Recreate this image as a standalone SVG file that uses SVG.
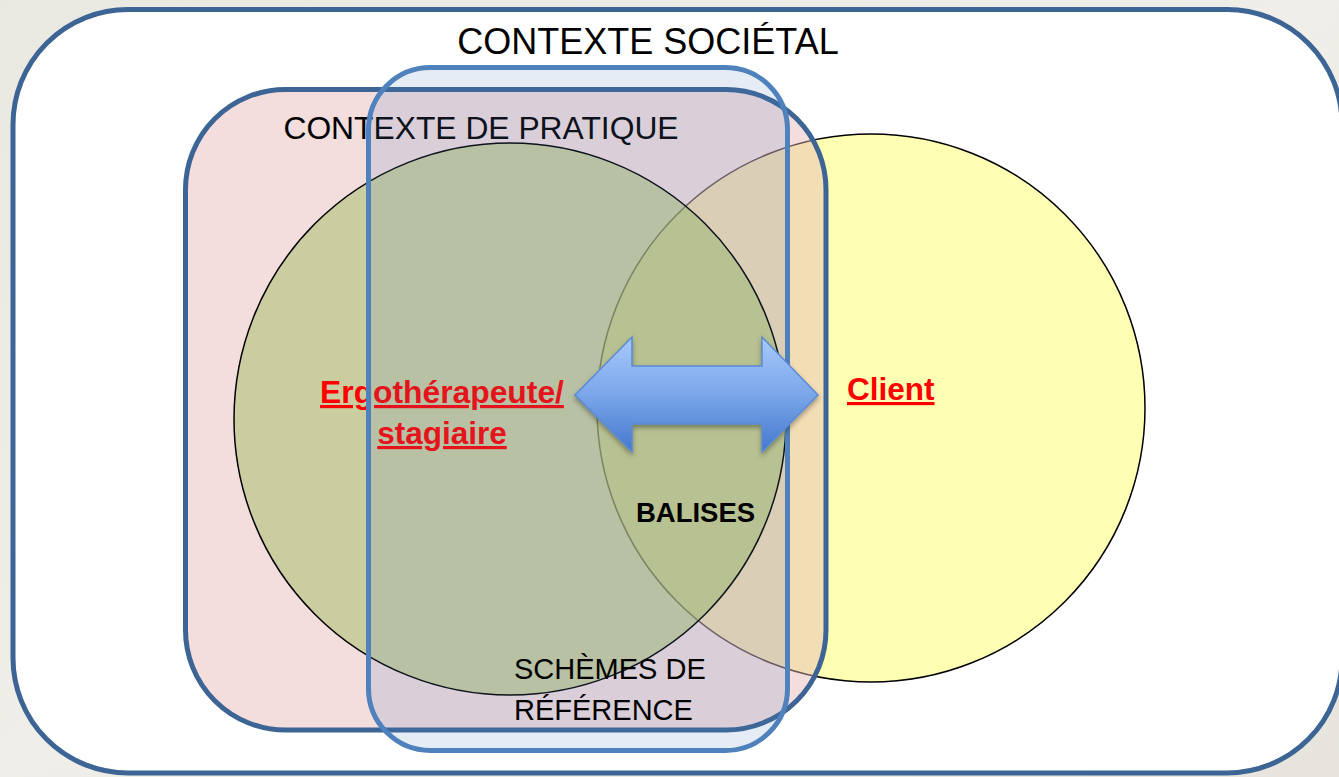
<svg xmlns="http://www.w3.org/2000/svg" width="1339" height="777" viewBox="0 0 1339 777">
  <defs>
    <linearGradient id="bg" x1="0" y1="0" x2="1" y2="1">
      <stop offset="0" stop-color="#e9e8e1"/>
      <stop offset="0.5" stop-color="#efeee8"/>
      <stop offset="1" stop-color="#e6e4dc"/>
    </linearGradient>
    <linearGradient id="arrowGrad" x1="0" y1="0" x2="0" y2="1">
      <stop offset="0" stop-color="#a9c9fa"/>
      <stop offset="0.5" stop-color="#7aa6ea"/>
      <stop offset="1" stop-color="#4478cc"/>
    </linearGradient>
    <filter id="shadow" x="-10%" y="-20%" width="120%" height="150%">
      <feDropShadow dx="0" dy="3" stdDeviation="2.5" flood-color="#000" flood-opacity="0.35"/>
    </filter>
    <style>
      .frame { stroke: #3c6494; stroke-width: 5; }
      .circle { stroke: #000; stroke-width: 1.5; }
      .sans { font-family: "Liberation Sans", Arial, sans-serif; fill: #000; }
      .label { font-family: "Liberation Sans", Arial, sans-serif; font-weight: bold; fill: #ff0000; text-decoration: underline; }
      .body { font-family: "Liberation Sans", Arial, sans-serif; fill: #000; }
    </style>
  </defs>

  <rect x="0" y="0" width="1339" height="777" fill="url(#bg)"/>

  <g id="contexte-societal">
    <rect x="13" y="9.5" width="1329" height="763.5" rx="115" ry="115" fill="#ffffff" class="frame"/>
    <text x="648" y="54" class="sans" font-size="36" text-anchor="middle">CONTEXTE SOCIÉTAL</text>
  </g>

  <g id="client">
    <circle cx="871" cy="408" r="274" fill="#ffffb3" class="circle"/>
  </g>

  <g id="contexte-pratique">
    <rect x="185.5" y="89.5" width="640.5" height="640.5" rx="100" ry="100" fill="#e6b8b7" fill-opacity="0.48" class="frame"/>
    <text x="481" y="139" class="sans" font-size="31.8" text-anchor="middle">CONTEXTE DE PRATIQUE</text>
  </g>

  <g id="ergotherapeute">
    <circle cx="510" cy="419" r="276" fill="#9bbb59" fill-opacity="0.47" class="circle"/>
    <text x="442" y="403" class="label" font-size="31.8" text-anchor="middle">Ergothérapeute/</text>
    <text x="442" y="444" class="label" font-size="31.5" text-anchor="middle">stagiaire</text>
  </g>

  <g id="client-label">
    <text x="847" y="400" class="label" font-size="31.5">Client</text>
  </g>

  <g id="schemes-de-reference">
    <rect x="368.5" y="67.5" width="419" height="683" rx="62" ry="62" fill="#4f81bd" fill-opacity="0.15" stroke="#4f81bd" stroke-width="5"/>
    <text x="514" y="679" class="body" font-size="29">SCHÈMES DE</text>
    <text x="514" y="720" class="body" font-size="29">RÉFÉRENCE</text>
  </g>

  <g id="connectors">
    <path d="M575,395 L632,337 L632,366 L762,366 L762,337 L818,395 L762,452 L762,424 L632,424 L632,452 Z" fill="url(#arrowGrad)" stroke="#5a8bd2" stroke-width="1.5" stroke-linejoin="miter" filter="url(#shadow)"/>
  </g>

  <g id="balises">
    <text x="695.5" y="522" class="sans" font-size="27.5" font-weight="bold" text-anchor="middle">BALISES</text>
  </g>
</svg>
